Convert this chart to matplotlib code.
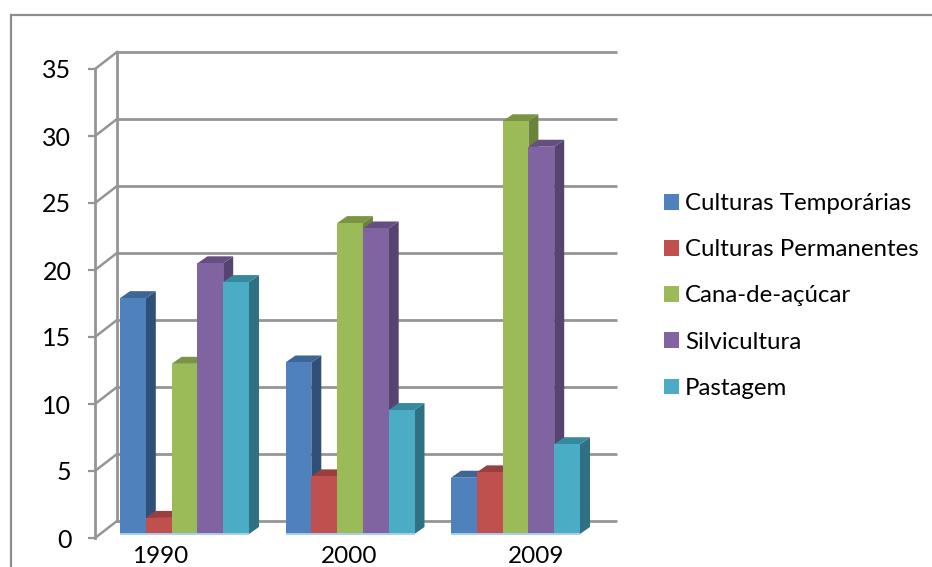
import matplotlib
matplotlib.use("Agg")
import matplotlib.pyplot as plt
from matplotlib.patches import Polygon, Patch
from matplotlib.lines import Line2D

plt.rcParams['font.family'] = ['Lato', 'DejaVu Sans']

categories = ['1990', '2000', '2009']
series = ['Culturas Temporárias', 'Culturas Permanentes', 'Cana-de-açúcar', 'Silvicultura', 'Pastagem']
temporarias = [17.6, 12.8, 4.2]
permanentes = [1.2, 4.3, 4.6]
cana = [12.7, 23.2, 30.8]
silvicultura = [20.2, 22.8, 28.9]
pastagem = [18.8, 9.25, 6.7]
values = [temporarias, permanentes, cana, silvicultura, pastagem]
y_ticks = [0, 5, 10, 15, 20, 25, 30, 35]

front = ['#4F81BD', '#C0504D', '#9BBB59', '#8064A2', '#4BACC6']
side = ['#2F5078', '#8A3A38', '#6B8239', '#574370', '#2F7083']
top = ['#3D6596', '#9A3F3D', '#7A9444', '#654F80', '#378A9E']
GRID = '#959595'

W, H = 932, 567
fig = plt.figure(figsize=(W / 100, H / 100), dpi=100)
L, R, B, T = 95, 617, 538, 69
ax = fig.add_axes([L / W, 1 - B / H, (R - L) / W, (B - T) / H])
px_x = 165.5            # pixels per category
px_y = (B - T) / 35     # pixels per value unit
ax.set_xlim((L - 184.5) / px_x, (R - 184.5) / px_x)
ax.set_ylim(0, 35)
ax.patch.set_alpha(0)

# outer frame
fig.add_artist(Line2D([11 / W, 11 / W, 1], [0, 1 - 15 / H, 1 - 15 / H], color='#8C8C8C', lw=1.6,
                      transform=fig.transFigure, solid_joinstyle='miter'))

# walls (depth offset of the back plane)
wall_dx = 22 / px_x
wall_dy = 17 / px_y
x0 = ax.get_xlim()[0]
x1 = ax.get_xlim()[1]
for v in y_ticks:
    ax.plot([x0 + wall_dx, x1], [v + wall_dy] * 2, color=GRID, lw=2.0, clip_on=False,
            solid_capstyle='butt', zorder=1)
    ax.plot([x0, x0 + wall_dx], [v, v + wall_dy], color=GRID, lw=1.8, clip_on=False, zorder=1)
ax.plot([x0 + wall_dx] * 2, [0 + wall_dy, 35 + wall_dy], color=GRID, lw=2.0, clip_on=False, zorder=1)

# bars
bw = 25.8 / px_x
base = 4 / px_y
dx = 10 / px_x
dy = 7 / px_y
z = 3
for g in range(len(categories)):
    for s, vals in enumerate(values):
        v = vals[g]
        left = g + (s - 2.5) * bw
        h = base + v
        ax.add_patch(Polygon([(left + bw, base), (left + bw + dx, base + dy), (left + bw + dx, h + dy), (left + bw, h)],
                             closed=True, fc=side[s], ec='none', zorder=z, clip_on=False))
        ax.add_patch(Polygon([(left, h), (left + dx, h + dy), (left + bw + dx, h + dy), (left + bw, h)],
                             closed=True, fc=top[s], ec='none', zorder=z, clip_on=False))
        ax.bar(left, v, width=bw, bottom=base, align='edge', color=front[s], zorder=z + 0.5, clip_on=False)
        ax.plot([left, left + bw], [base, base], color='#A9CDEB', lw=1.4, zorder=z + 0.6,
                solid_capstyle='butt', clip_on=False)
        z += 1

# axes
for sp in ['top', 'right', 'bottom']:
    ax.spines[sp].set_visible(False)
ax.spines['left'].set_color(GRID)
ax.spines['left'].set_linewidth(2.0)
ax.set_yticks(y_ticks)
ax.tick_params(axis='y', length=5, width=1.6, color=GRID, labelsize=18, pad=12, labelcolor='black')
label_pos = [-0.145, 0.995, 2.127]
ax.set_xticks(label_pos)
ax.set_xticklabels(categories, fontsize=17.5, color='black')
ax.tick_params(axis='x', length=0, pad=6)

# legend
handles = [Patch(fc=c, ec='none') for c in front]
leg = fig.legend(handles, series, loc='center left', bbox_to_anchor=(664 / W, 1 - 296 / H),
                 frameon=False, fontsize=17.25, handlelength=0.625, handleheight=0.625, handletextpad=0.25,
                 labelspacing=1.05, borderpad=0, borderaxespad=0)

fig.savefig('out.png', dpi=100)
